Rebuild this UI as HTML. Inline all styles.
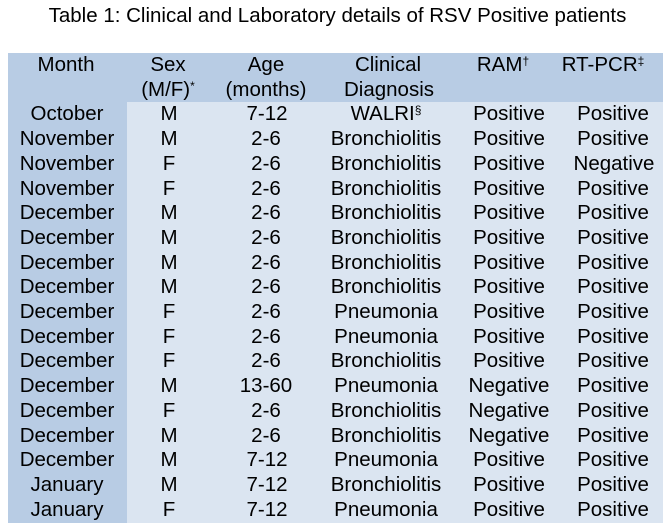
<!DOCTYPE html>
<html>
<head>
<meta charset="utf-8">
<style>
  html,body{margin:0;padding:0;background:#fff;}
  body{width:669px;height:530px;position:relative;overflow:hidden;
       font-family:"Liberation Sans",Arial,sans-serif;color:#000;}
  .title{position:absolute;left:0;width:675px;top:4px;height:24px;line-height:24px;
         text-align:center;font-size:20.5px;}
  .hdr{position:absolute;left:8px;top:53px;width:655px;height:49.4px;background:#b8cce4;}
  .body{position:absolute;left:8px;top:102.4px;width:655px;height:420.6px;background:#dbe5f1;}
  .col1{position:absolute;left:8px;top:102.4px;width:119px;height:420.6px;background:#b8cce4;}
  .c{position:absolute;width:200px;height:24.7px;line-height:24.7px;text-align:center;
     font-size:20.5px;white-space:nowrap;}
  .sup{font-size:12px;position:relative;top:-6px;}
</style>
</head>
<body>
<div class="title">Table 1: Clinical and Laboratory details of RSV Positive patients</div>
<div class="hdr"></div>
<div class="body"></div>
<div class="col1"></div>

<!-- header -->
<div class="c" style="left:-34px;top:53px">Month</div>
<div class="c" style="left:68px;top:53px">Sex</div>
<div class="c" style="left:68px;top:77.7px">(M/F)<span class="sup">*</span></div>
<div class="c" style="left:166px;top:53px">Age</div>
<div class="c" style="left:166px;top:77.7px">(months)</div>
<div class="c" style="left:288px;top:53px">Clinical</div>
<div class="c" style="left:289px;top:77.7px">Diagnosis</div>
<div class="c" style="left:403px;top:53px">RAM<span class="sup">†</span></div>
<div class="c" style="left:503px;top:53px">RT-PCR<span class="sup">‡</span></div>

<!-- rows -->
<div class="c" style="left:-33px;top:102.4px">October</div>
<div class="c" style="left:69px;top:102.4px">M</div>
<div class="c" style="left:167px;top:102.4px">7-12</div>
<div class="c" style="left:286px;top:102.4px">WALRI<span class="sup">§</span></div>
<div class="c" style="left:409px;top:102.4px">Positive</div>
<div class="c" style="left:513px;top:102.4px">Positive</div>

<div class="c" style="left:-33px;top:127.1px">November</div>
<div class="c" style="left:69px;top:127.1px">M</div>
<div class="c" style="left:166px;top:127.1px">2-6</div>
<div class="c" style="left:286px;top:127.1px">Bronchiolitis</div>
<div class="c" style="left:409px;top:127.1px">Positive</div>
<div class="c" style="left:513px;top:127.1px">Positive</div>

<div class="c" style="left:-33px;top:151.8px">November</div>
<div class="c" style="left:69px;top:151.8px">F</div>
<div class="c" style="left:166px;top:151.8px">2-6</div>
<div class="c" style="left:286px;top:151.8px">Bronchiolitis</div>
<div class="c" style="left:409px;top:151.8px">Positive</div>
<div class="c" style="left:514px;top:151.8px">Negative</div>

<div class="c" style="left:-33px;top:176.5px">November</div>
<div class="c" style="left:69px;top:176.5px">F</div>
<div class="c" style="left:166px;top:176.5px">2-6</div>
<div class="c" style="left:286px;top:176.5px">Bronchiolitis</div>
<div class="c" style="left:409px;top:176.5px">Positive</div>
<div class="c" style="left:513px;top:176.5px">Positive</div>

<div class="c" style="left:-33px;top:201.2px">December</div>
<div class="c" style="left:69px;top:201.2px">M</div>
<div class="c" style="left:166px;top:201.2px">2-6</div>
<div class="c" style="left:286px;top:201.2px">Bronchiolitis</div>
<div class="c" style="left:409px;top:201.2px">Positive</div>
<div class="c" style="left:513px;top:201.2px">Positive</div>

<div class="c" style="left:-33px;top:225.9px">December</div>
<div class="c" style="left:69px;top:225.9px">M</div>
<div class="c" style="left:166px;top:225.9px">2-6</div>
<div class="c" style="left:286px;top:225.9px">Bronchiolitis</div>
<div class="c" style="left:409px;top:225.9px">Positive</div>
<div class="c" style="left:513px;top:225.9px">Positive</div>

<div class="c" style="left:-33px;top:250.6px">December</div>
<div class="c" style="left:69px;top:250.6px">M</div>
<div class="c" style="left:166px;top:250.6px">2-6</div>
<div class="c" style="left:286px;top:250.6px">Bronchiolitis</div>
<div class="c" style="left:409px;top:250.6px">Positive</div>
<div class="c" style="left:513px;top:250.6px">Positive</div>

<div class="c" style="left:-33px;top:275.3px">December</div>
<div class="c" style="left:69px;top:275.3px">M</div>
<div class="c" style="left:166px;top:275.3px">2-6</div>
<div class="c" style="left:286px;top:275.3px">Bronchiolitis</div>
<div class="c" style="left:409px;top:275.3px">Positive</div>
<div class="c" style="left:513px;top:275.3px">Positive</div>

<div class="c" style="left:-33px;top:300px">December</div>
<div class="c" style="left:69px;top:300px">F</div>
<div class="c" style="left:166px;top:300px">2-6</div>
<div class="c" style="left:286px;top:300px">Pneumonia</div>
<div class="c" style="left:409px;top:300px">Positive</div>
<div class="c" style="left:513px;top:300px">Positive</div>

<div class="c" style="left:-33px;top:324.7px">December</div>
<div class="c" style="left:69px;top:324.7px">F</div>
<div class="c" style="left:166px;top:324.7px">2-6</div>
<div class="c" style="left:286px;top:324.7px">Pneumonia</div>
<div class="c" style="left:409px;top:324.7px">Positive</div>
<div class="c" style="left:513px;top:324.7px">Positive</div>

<div class="c" style="left:-33px;top:349.4px">December</div>
<div class="c" style="left:69px;top:349.4px">F</div>
<div class="c" style="left:166px;top:349.4px">2-6</div>
<div class="c" style="left:286px;top:349.4px">Bronchiolitis</div>
<div class="c" style="left:409px;top:349.4px">Positive</div>
<div class="c" style="left:513px;top:349.4px">Positive</div>

<div class="c" style="left:-33px;top:374.1px">December</div>
<div class="c" style="left:69px;top:374.1px">M</div>
<div class="c" style="left:166px;top:374.1px">13-60</div>
<div class="c" style="left:286px;top:374.1px">Pneumonia</div>
<div class="c" style="left:409px;top:374.1px">Negative</div>
<div class="c" style="left:513px;top:374.1px">Positive</div>

<div class="c" style="left:-33px;top:398.8px">December</div>
<div class="c" style="left:69px;top:398.8px">F</div>
<div class="c" style="left:166px;top:398.8px">2-6</div>
<div class="c" style="left:286px;top:398.8px">Bronchiolitis</div>
<div class="c" style="left:409px;top:398.8px">Negative</div>
<div class="c" style="left:513px;top:398.8px">Positive</div>

<div class="c" style="left:-33px;top:423.5px">December</div>
<div class="c" style="left:69px;top:423.5px">M</div>
<div class="c" style="left:166px;top:423.5px">2-6</div>
<div class="c" style="left:286px;top:423.5px">Bronchiolitis</div>
<div class="c" style="left:409px;top:423.5px">Negative</div>
<div class="c" style="left:513px;top:423.5px">Positive</div>

<div class="c" style="left:-33px;top:448.2px">December</div>
<div class="c" style="left:69px;top:448.2px">M</div>
<div class="c" style="left:167px;top:448.2px">7-12</div>
<div class="c" style="left:286px;top:448.2px">Pneumonia</div>
<div class="c" style="left:409px;top:448.2px">Positive</div>
<div class="c" style="left:513px;top:448.2px">Positive</div>

<div class="c" style="left:-33px;top:472.9px">January</div>
<div class="c" style="left:69px;top:472.9px">M</div>
<div class="c" style="left:167px;top:472.9px">7-12</div>
<div class="c" style="left:286px;top:472.9px">Bronchiolitis</div>
<div class="c" style="left:409px;top:472.9px">Positive</div>
<div class="c" style="left:513px;top:472.9px">Positive</div>

<div class="c" style="left:-33px;top:497.6px">January</div>
<div class="c" style="left:69px;top:497.6px">F</div>
<div class="c" style="left:167px;top:497.6px">7-12</div>
<div class="c" style="left:286px;top:497.6px">Pneumonia</div>
<div class="c" style="left:409px;top:497.6px">Positive</div>
<div class="c" style="left:513px;top:497.6px">Positive</div>
</body>
</html>
